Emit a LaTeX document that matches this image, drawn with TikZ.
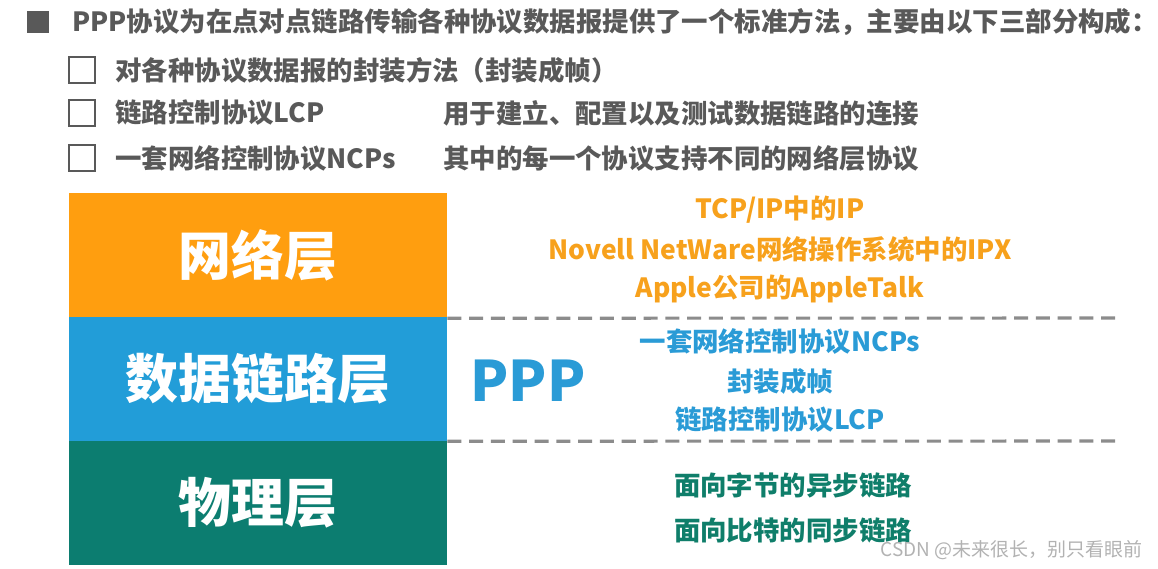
\documentclass[tikz,border=0pt]{standalone}
\usepackage{fontspec}
\setmainfont{Noto Sans CJK SC}
\definecolor{netorange}{HTML}{FF9E0F}
\definecolor{linkblue}{HTML}{229DD8}
\definecolor{phyteal}{HTML}{0C7D70}
\definecolor{txtorange}{HTML}{F7A11C}
\definecolor{txtblue}{HTML}{2A9BD6}
\definecolor{txtteal}{HTML}{0F7E6A}
\definecolor{txtgrey}{HTML}{595959}
\begin{document}
\begin{tikzpicture}[x=0.025cm, y=-0.025cm,
  every node/.style={inner sep=0pt},
  layer/.style={minimum width=9.45cm, minimum height=3.1cm, draw=none, text=white,
    font=\fontsize{37.6pt}{40pt}\selectfont\bfseries},
  head/.style={anchor=west, text=txtgrey, font=\fontsize{18.8pt}{22pt}\selectfont\bfseries},
  chk/.style={draw=txtgrey, line width=1.6pt, minimum size=0.64cm},
  note/.style={font=\fontsize{18.8pt}{22pt}\selectfont\bfseries},
  sep/.style={gray!90, line width=2.2pt, dash pattern=on 10pt off 5.5pt},
]
  \useasboundingbox (0,0) rectangle (1158,569);
  % Header
  \node[fill=txtgrey, minimum size=0.55cm] (bullet) at (38,22) {};
  \node[head] (title) at (72,22) {PPP协议为在点对点链路传输各种协议数据报提供了一个标准方法，主要由以下三部分构成：};
  \node[chk] (c1) at (82,70) {};
  \node[chk] (c2) at (82,113) {};
  \node[chk] (c3) at (82,158) {};
  \node[head] (i1) at (115,70) {对各种协议数据报的封装方法（封装成帧）};
  \node[head] (i2) at (115,113) {链路控制协议LCP};
  \node[head] (i3) at (115,158) {一套网络控制协议NCPs};
  \node[head] (d2) at (443,113) {用于建立、配置以及测试数据链路的连接};
  \node[head] (d3) at (443,158) {其中的每一个协议支持不同的网络层协议};
  % Layers
  \node[layer, fill=netorange] (net) at (258,255) {网络层};
  \node[layer, fill=linkblue] (link) at (258,379) {数据链路层};
  \node[layer, fill=phyteal] (phy) at (258,503) {物理层};
  % Dashed separators
  \coordinate (e1) at (1115,318);
  \coordinate (e2) at (1115,441);
  \draw[sep] (net.south east) ++(0,1) -- (e1);
  \draw[sep] (link.south east) -- (e2);
  % PPP
  \node[text=txtblue, font=\fontsize{39.7pt}{42pt}\selectfont\bfseries] (ppp) at (528,381) {PPP};
  % Protocol notes
  \node[note, text=txtorange] (n1) at (780,210) {TCP/IP中的IP};
  \node[note, text=txtorange] (n2) at (780,249) {Novell NetWare网络操作系统中的IPX};
  \node[note, text=txtorange] (n3) at (780,289) {Apple公司的AppleTalk};
  \node[note, text=txtblue] (n4) at (780,341) {一套网络控制协议NCPs};
  \node[note, text=txtblue] (n5) at (780,381) {封装成帧};
  \node[note, text=txtblue] (n6) at (780,420) {链路控制协议LCP};
  \node[note, text=txtteal] (n7) at (793,485) {面向字节的异步链路};
  \node[note, text=txtteal] (n8) at (793,530) {面向比特的同步链路};
  % Watermark
  \node[anchor=east, text=gray!60, font=\fontsize{13.5pt}{16pt}\selectfont] (mark) at (1143,550) {CSDN @未来很长，别只看眼前};
\end{tikzpicture}
\end{document}
